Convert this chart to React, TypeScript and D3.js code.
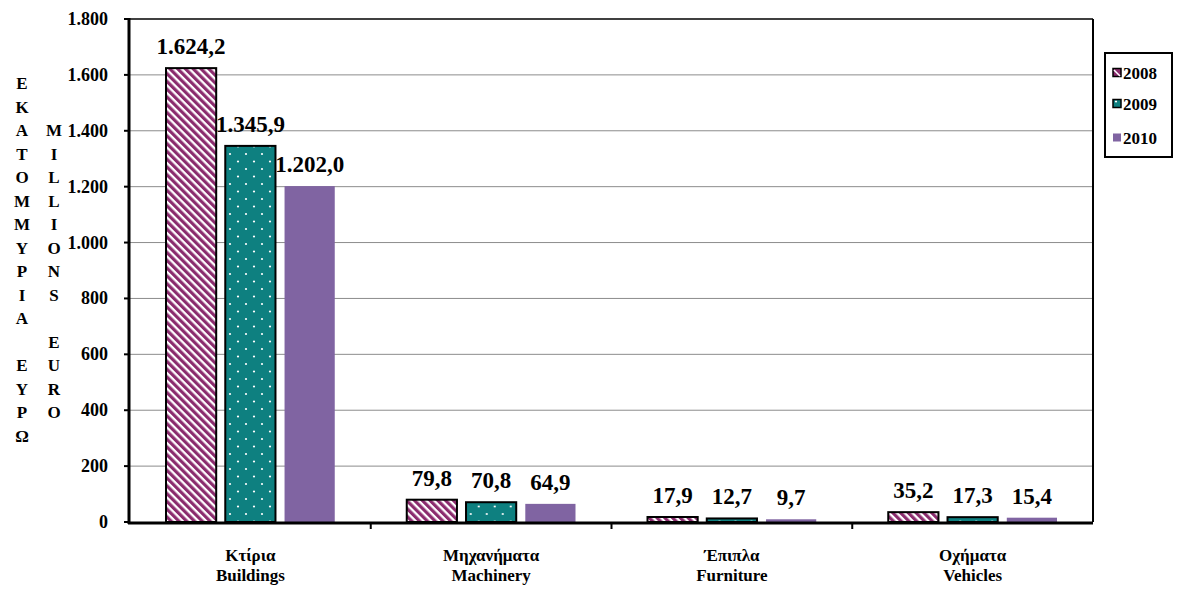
import React from 'react';
import * as d3 from 'd3';

const categoriesGr = ['Κτίρια', 'Μηχανήματα', 'Έπιπλα', 'Οχήματα'];
const categoriesEn = ['Buildings', 'Machinery', 'Furniture', 'Vehicles'];
const years = ['2008', '2009', '2010'];
const values2008 = [1624.2, 79.8, 17.9, 35.2];
const values2009 = [1345.9, 70.8, 12.7, 17.3];
const values2010 = [1202.0, 64.9, 9.7, 15.4];
const yTicks = [0, 200, 400, 600, 800, 1000, 1200, 1400, 1600, 1800];
const axisGr = 'ΕΚΑΤΟΜΜΥΡΙΑ ΕΥΡΩ';
const axisEn = 'MILLIONS EURO';

const series = [values2008, values2009, values2010];
const fills = ['url(#stripes)', 'url(#dots)', '#8064A2'];
const strokes = ['#000', '#000', 'none'];

const W = 1186;
const H = 599;
const left = 130;
const right = 1093;
const top = 19;
const bottom = 522;
const font = '"Times New Roman", "Liberation Serif", serif';

// greek number format: 1.624,2
const fmtNum = (v: number) => {
  const s = v.toFixed(1).split('.');
  const int = s[0].replace(/\B(?=(\d{3})+(?!\d))/g, '.');
  return int + ',' + s[1];
};
const fmtTick = (v: number) => String(v).replace(/\B(?=(\d{3})+(?!\d))/g, '.');

export default function App() {
  const x = d3.scaleBand<string>().domain(categoriesEn).range([left, right]).padding(0);
  const inner = d3
    .scaleBand<string>()
    .domain(years)
    .range([36, x.bandwidth() - 36])
    .paddingInner(0.153)
    .paddingOuter(0);
  const y = d3.scaleLinear().domain([0, 1800]).range([bottom, top]);

  const step = 23.5;

  return (
    <svg width={W} height={H} style={{ position: 'absolute', left: 0, top: 0, background: '#fff', fontFamily: font, fontWeight: 'bold' }}>
      <defs>
        <pattern id="stripes" width={5.5} height={10} patternUnits="userSpaceOnUse" patternTransform="rotate(-45)">
          <rect width={5.5} height={10} fill="#fff" />
          <rect width={3.2} height={10} fill="#8B2C6E" />
        </pattern>
        <pattern id="dots" width={16} height={15} patternUnits="userSpaceOnUse">
          <rect width={16} height={15} fill="#0E8080" />
          <circle cx={4} cy={4} r={1.1} fill="#fff" />
          <circle cx={12} cy={11.5} r={1.1} fill="#fff" />
        </pattern>
      </defs>

      {/* grid */}
      {yTicks.filter((t) => t > 0 && t < 1800).map((t) => (
        <line key={t} x1={left} x2={right} y1={y(t)} y2={y(t)} stroke="#8c8c8c" strokeWidth={1} />
      ))}
      <line x1={left} x2={right} y1={y(1800)} y2={y(1800)} stroke="#000" strokeWidth={1.5} />
      <line x1={right} x2={right} y1={y(1800)} y2={bottom} stroke="#000" strokeWidth={2} />

      {/* bars */}
      {categoriesEn.map((c, i) => (
        <g key={c} transform={`translate(${x(c)},0)`}>
          {years.map((yr, j) => {
            const v = series[j][i];
            const bx = inner(yr)!;
            const bw = inner.bandwidth();
            return (
              <g key={yr}>
                <rect
                  x={bx}
                  y={y(v)}
                  width={bw}
                  height={bottom - y(v)}
                  fill={fills[j]}
                  stroke={strokes[j]}
                  strokeWidth={2}
                />
                <text x={bx + bw / 2} y={y(v) - 14} textAnchor="middle" fontSize={23}>
                  {fmtNum(v)}
                </text>
              </g>
            );
          })}
        </g>
      ))}

      {/* y axis */}
      <line x1={left - 1} x2={left - 1} y1={top - 1} y2={bottom + 2} stroke="#000" strokeWidth={3} />
      {yTicks.map((t) => (
        <g key={t}>
          <line x1={left - 6} x2={left - 1} y1={y(t)} y2={y(t)} stroke="#000" strokeWidth={2} />
          <text x={108} y={y(t) + 6} textAnchor="end" fontSize={18}>
            {fmtTick(t)}
          </text>
        </g>
      ))}

      {/* x axis */}
      <line x1={left - 2} x2={right} y1={bottom + 1} y2={bottom + 1} stroke="#000" strokeWidth={3} />
      {categoriesEn.map((c, i) => (
        <g key={c}>
          {i > 0 && (
            <line x1={x(c)} x2={x(c)} y1={bottom} y2={bottom + 7} stroke="#000" strokeWidth={2} />
          )}
          <text x={x(c)! + x.bandwidth() / 2} y={561} textAnchor="middle" fontSize={17}>
            {categoriesGr[i]}
          </text>
          <text x={x(c)! + x.bandwidth() / 2} y={581} textAnchor="middle" fontSize={17}>
            {c}
          </text>
        </g>
      ))}

      {/* vertical axis titles */}
      {axisGr.split('').map((ch, i) => (
        <text key={'g' + i} x={22} y={83 + i * step + 6} textAnchor="middle" fontSize={17}>
          {ch}
        </text>
      ))}
      {axisEn.split('').map((ch, i) => (
        <text key={'e' + i} x={54} y={83 + (i + 2) * step + 6} textAnchor="middle" fontSize={17}>
          {ch}
        </text>
      ))}

      {/* legend */}
      <rect x={1105} y={53} width={67} height={104} fill="#fff" stroke="#000" strokeWidth={2} />
      {years.map((yr, j) => {
        const cy = [73, 104, 138][j];
        return (
          <g key={yr}>
            <rect
              x={1113}
              y={cy - 4.5}
              width={8}
              height={8}
              fill={j === 0 ? '#8B2C6E' : fills[j]}
              stroke={strokes[j]}
              strokeWidth={1.5}
            />
            {j === 0 && <line x1={1114} y1={cy - 3} x2={1120} y2={cy + 3} stroke="#fff" strokeWidth={1.5} />}
            <text x={1123} y={cy + 6} fontSize={17}>
              {yr}
            </text>
          </g>
        );
      })}
    </svg>
  );
}
